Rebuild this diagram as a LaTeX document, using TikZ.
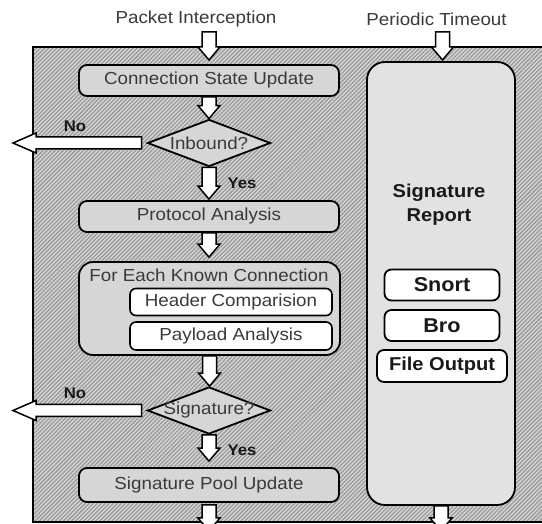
\documentclass[tikz,border=0pt]{standalone}
\usepackage{fontspec}
\setmainfont{Liberation Sans}[FakeStretch=1.08]
\usetikzlibrary{shapes.geometric,patterns.meta,calc}
\definecolor{boxgray}{HTML}{D6D6D6}
\definecolor{lightbox}{HTML}{E2E2E2}
\definecolor{bggray}{HTML}{D2D2D2}
\definecolor{hatchgray}{HTML}{969696}
\definecolor{txtgray}{HTML}{3A3A3A}
\newcommand\regf{\fontsize{17.4}{19}\selectfont}
\newcommand\boldf{\fontsize{18.6}{24}\selectfont\bfseries}
\newcommand\bigbf{\fontsize{20}{24}\selectfont\bfseries}
\newcommand\lblf{\fontsize{15.5}{17}\selectfont\bfseries}
\newcommand\blockdown[2]{\draw[blk] let \p1=(#1), \p2=(#2) in
  (\x1-7pt,\y1) -- (\x1-7pt,\y2+13pt) -- (\x1-11pt,\y2+13pt) -- (\x1,\y2)
  -- (\x1+11pt,\y2+13pt) -- (\x1+7pt,\y2+13pt) -- (\x1+7pt,\y1) -- cycle;}
\newcommand\blockleft[2]{\draw[blk] let \p1=(#1), \p2=(#2) in
  (\x1,\y1+6pt) -- (\x2+23pt,\y1+6pt) -- (\x2+23pt,\y1+10pt) -- (\x2,\y1)
  -- (\x2+23pt,\y1-10pt) -- (\x2+23pt,\y1-6pt) -- (\x1,\y1-6pt) -- cycle;}
\begin{document}
\begin{tikzpicture}[x=1pt,y=-1pt,
  blk/.style={draw=black, fill=white, line width=1.5pt, line join=miter},
  gbox/.style={draw, line width=1.8pt, rounded corners=8pt, fill=boxgray,
    minimum width=260pt, minimum height=31pt, inner sep=0pt, font=\regf, text=txtgray},
  wbox/.style={draw, line width=1.6pt, rounded corners=6pt, fill=white,
    minimum width=202pt, minimum height=27pt, inner sep=0pt, font=\regf, text=txtgray},
  rbox/.style={draw, line width=1.8pt, rounded corners=7pt, fill=white,
    minimum width=115pt, minimum height=31pt, inner sep=0pt, font=\bigbf, text=black!90},
  dia/.style={diamond, draw, line width=1.8pt, fill=boxgray, minimum width=123pt,
    minimum height=47pt, inner sep=0pt, font=\regf, text=txtgray},
  lbl/.style={font=\lblf, text=black!90, inner sep=0pt},
  ttl/.style={font=\regf, text=txtgray, inner sep=0pt}]
\useasboundingbox (0,0) rectangle (542,524);
\clip (0,0) rectangle (542,524);
\fill[white] (0,0) rectangle (542,524);
% hatched background
\fill[bggray] (33,47) rectangle (560,522);
\fill[pattern={Lines[angle=45,distance=2.85pt,line width=1.1pt]}, pattern color=hatchgray]
  (33,47) rectangle (560,522);
\draw[line width=1.9pt] (560,47) -- (33,47) -- (33,522) -- (560,522);
% top labels
\node[ttl] (pi) at (196,19) {Packet Interception};
\node[ttl] (pt) at (436.5,19) {Periodic Timeout};
% left column
\node[gbox] (csu) at (209,80.5) {Connection State Update};
\node[dia] (inb) at (209,143) {\makebox[0pt]{Inbound?}};
\node[gbox] (pa) at (209,216.5) {Protocol Analysis};
\node[gbox, minimum width=261pt, minimum height=93pt, rounded corners=14pt] (fe) at (209.5,308.5) {};
\node[ttl] (fet) at (209,275) {For Each Known Connection};
\node[wbox] (hc) at (231,302) {Header Comparision};
\node[wbox, minimum height=28pt] (pl) at (231,336) {Payload Analysis};
\node[dia] (sig) at (209,410.5) {\makebox[0pt]{Signature?}};
\node[gbox, minimum height=34pt] (spu) at (209,485) {Signature Pool Update};
% right column
\node[draw, line width=1.8pt, rounded corners=18pt, fill=lightbox,
  minimum width=148pt, minimum height=443pt, inner sep=0pt] (sr) at (441,283.5) {};
\node[font=\boldf, text=black!90, align=center, inner sep=0pt] (srt) at (439,205) {Signature\\Report};
\node[rbox] (snort) at (442,285) {Snort};
\node[rbox] (bro) at (442,325.5) {Bro};
\node[rbox, minimum width=130pt, minimum height=32pt, font=\boldf] (fo) at (442,366) {File Output};
% labels
\node[lbl] (no1) at (75,126) {No};
\node[lbl] (no2) at (75,393) {No};
\node[lbl] (yes1) at (242,183) {Yes};
\node[lbl] (yes2) at (242,450) {Yes};
% free ends
\coordinate (pis) at (209,32);
\coordinate (pie) at (209,60);
\coordinate (pts) at (442.5,32);
\coordinate (pte) at (442.5,60);
\coordinate (out1) at (13,143);
\coordinate (out2) at (13,410.5);
\coordinate (bot1) at (209,531);
\coordinate (bot2) at (442.5,531);
% block arrows
\blockdown{pis}{pie}
\blockdown{pts}{pte}
\blockdown{csu.south}{inb.north}
\blockdown{inb.south}{$(pa.north)+(0,-1)$}
\blockdown{pa.south}{$(fe.north)+(0,-4)$}
\blockdown{fe.south}{sig.north}
\blockdown{sig.south}{$(spu.north)+(0,-6)$}
\blockdown{$(spu.south)+(0,2)$}{bot1}
\blockdown{sr.south}{bot2}
\blockleft{$(inb.west)+(-5,0)$}{out1}
\blockleft{$(sig.west)+(-5,0)$}{out2}
\end{tikzpicture}
\end{document}
